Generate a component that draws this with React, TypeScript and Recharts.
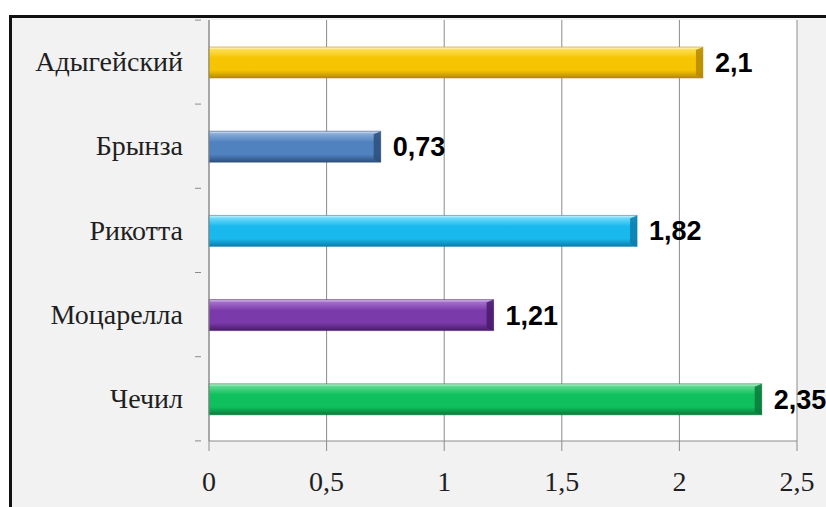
import { BarChart, Bar, XAxis, YAxis, CartesianGrid, LabelList } from 'recharts'

const cheeses = ['Адыгейский', 'Брынза', 'Рикотта', 'Моцарелла', 'Чечил']
const amounts = [2.1, 0.73, 1.82, 1.21, 2.35]
const xTicks = [0, 0.5, 1, 1.5, 2, 2.5]

// light / mid / dark for the glossy cylinder look
const palette = [
  ['#ffe76e', '#f6c400', '#b58a00'],
  ['#9bb8e0', '#5082c0', '#2c4f7c'],
  ['#8ae4ff', '#19b9ee', '#0a7dab'],
  ['#b07fd6', '#7b3aa9', '#481b6b'],
  ['#74e2a0', '#10bf5d', '#09793a'],
]

const chartData = cheeses.map((name, i) => ({ name, value: amounts[i] }))

const comma = (v: number) => String(v).replace('.', ',')
const serif = "'Liberation Serif', 'Times New Roman', serif"

function GlossyBar(props: any) {
  const { x, y, width, height, index } = props
  if (!width || width <= 0) return null
  const cap = Math.min(7, width)
  const [, , dark] = palette[index]
  return (
    <g>
      <rect x={x} y={y} width={width} height={height} fill={`url(#bar${index})`} />
      <rect x={x} y={y} width={width} height={2} fill="#ffffff" opacity={0.35} />
      <polygon
        points={`${x + width - cap},${y + 3} ${x + width},${y} ${x + width},${y + height} ${x + width - cap},${y + height - 3}`}
        fill={dark}
        opacity={0.85}
      />
      <rect x={x} y={y} width={width} height={height} fill="none" stroke={dark} strokeOpacity={0.5} strokeWidth={1} />
    </g>
  )
}

function CategoryTick(props: any) {
  const { x, y, payload, index } = props
  const half = 42
  return (
    <g>
      <text x={x - 18} y={y} dy={9} textAnchor="end" fontFamily={serif} fontSize={28} fill="#1f1f1f">
        {payload.value}
      </text>
      {index === 0 && <line x1={x - 6} x2={x} y1={y - half} y2={y - half} stroke="#8c8c8c" />}
      <line x1={x - 6} x2={x} y1={y + half} y2={y + half} stroke="#8c8c8c" />
    </g>
  )
}

export default function App() {
  return (
    <div style={{ position: 'fixed', left: 0, top: 0, width: 826, height: 507, background: '#fff', overflow: 'hidden' }}>
      <div
        style={{
          position: 'absolute',
          left: 9,
          top: 15,
          width: 840,
          height: 520,
          borderLeft: '3px solid #111',
          borderTop: '3px solid #111',
          background: '#f2f2f2',
        }}
      />
      <div style={{ position: 'absolute', left: 0, top: 0 }}>
        <BarChart
          width={826}
          height={507}
          data={chartData}
          layout="vertical"
          barSize={31}
          margin={{ top: 20, right: 29, left: 0, bottom: 16 }}
        >
          <defs>
            {palette.map((c, i) => (
              <linearGradient key={i} id={`bar${i}`} x1="0" y1="0" x2="0" y2="1">
                <stop offset="0%" stopColor={c[0]} />
                <stop offset="35%" stopColor={c[1]} />
                <stop offset="75%" stopColor={c[1]} />
                <stop offset="100%" stopColor={c[2]} />
              </linearGradient>
            ))}
          </defs>
          <CartesianGrid horizontal={false} fill="#ffffff" stroke="#8c8c8c" strokeWidth={1} />
          <XAxis
            type="number"
            domain={[0, 2.5]}
            ticks={xTicks}
            tickFormatter={comma}
            height={50}
            axisLine={{ stroke: '#8c8c8c' }}
            tickLine={{ stroke: '#8c8c8c' }}
            tickSize={10}
            tickMargin={20}
            tick={{ fontFamily: serif, fontSize: 28, fill: '#1f1f1f' }}
          />
          <YAxis
            type="category"
            dataKey="name"
            width={209}
            axisLine={{ stroke: '#8c8c8c' }}
            tickLine={false}
            tick={<CategoryTick />}
          />
          <Bar dataKey="value" shape={<GlossyBar />} isAnimationActive={false}>
            <LabelList
              dataKey="value"
              position="right"
              offset={12}
              formatter={(v: any) => comma(Number(v))}
              style={{ fontFamily: "'Liberation Sans', Arial, sans-serif", fontSize: 27, fontWeight: 700, fill: '#000' }}
            />
          </Bar>
        </BarChart>
      </div>
    </div>
  )
}
